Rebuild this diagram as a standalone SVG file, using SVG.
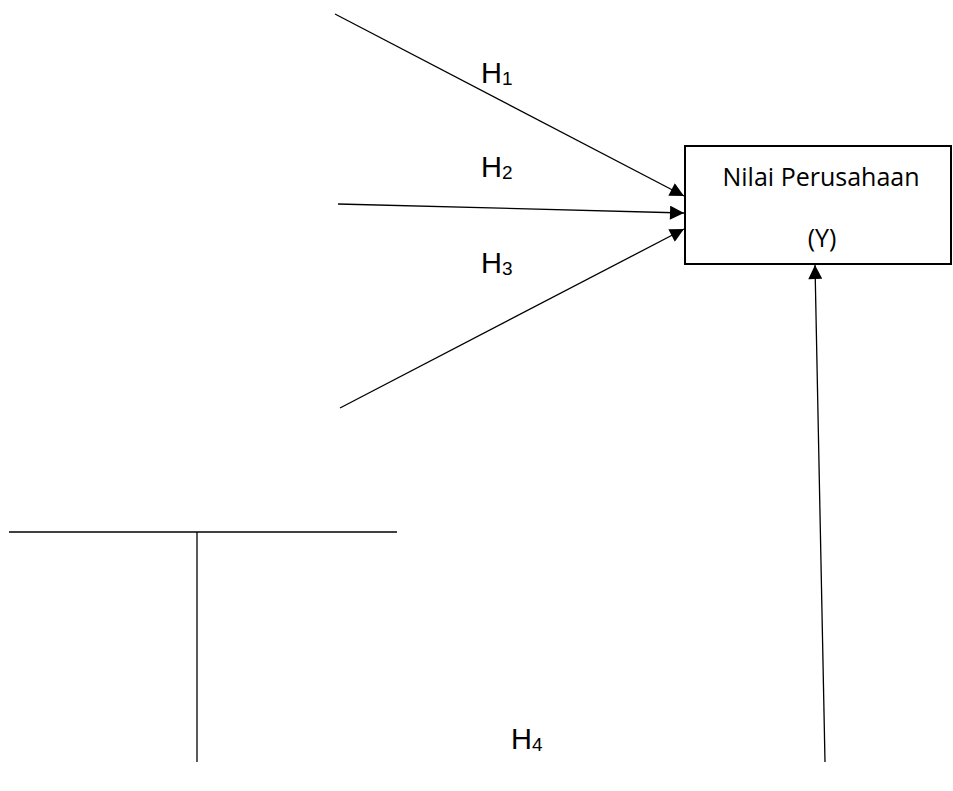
<svg xmlns="http://www.w3.org/2000/svg" width="953" height="791" viewBox="0 0 953 791">
<style>
.ln{stroke:#000;stroke-width:1.3;fill:none}
.h{font-family:"Liberation Sans",Arial,sans-serif;font-size:29px;fill:#000}
.s{font-size:19px}
.t{font-family:"Open Sans","Noto Sans",sans-serif;font-size:25px;fill:#000}
</style>
<defs>
<marker id="ah" viewBox="0 0 10 10" refX="10" refY="5" markerWidth="15" markerHeight="14" markerUnits="userSpaceOnUse" orient="auto"><path d="M0,0 L10,5 L0,10 z" fill="#000"/></marker>
</defs>
<rect width="953" height="791" fill="#fff"/>
<g id="node-y">
<rect x="685" y="146" width="266" height="118" fill="#fff" stroke="#000" stroke-width="2"/>
<text class="t" x="821" y="186" text-anchor="middle">Nilai Perusahaan</text>
<text class="t" x="822" y="247" text-anchor="middle">(Y)</text>
</g>
<g id="connectors">
<line class="ln" x1="335" y1="14" x2="684" y2="196" marker-end="url(#ah)"/>
<line class="ln" x1="338" y1="204" x2="684" y2="213" marker-end="url(#ah)"/>
<line class="ln" x1="340" y1="408" x2="684" y2="229" marker-end="url(#ah)"/>
<line class="ln" x1="825" y1="762" x2="815" y2="265" marker-end="url(#ah)"/>
<line class="ln" x1="9" y1="532" x2="397" y2="532"/>
<line class="ln" x1="197" y1="532" x2="197" y2="762"/>
</g>
<g id="labels">
<text class="h" x="481" y="83">H<tspan class="s" dy="2">1</tspan></text>
<text class="h" x="481" y="177">H<tspan class="s" dy="2">2</tspan></text>
<text class="h" x="481" y="273">H<tspan class="s" dy="2">3</tspan></text>
<text class="h" x="511" y="749">H<tspan class="s" dy="2">4</tspan></text>
</g>
</svg>
